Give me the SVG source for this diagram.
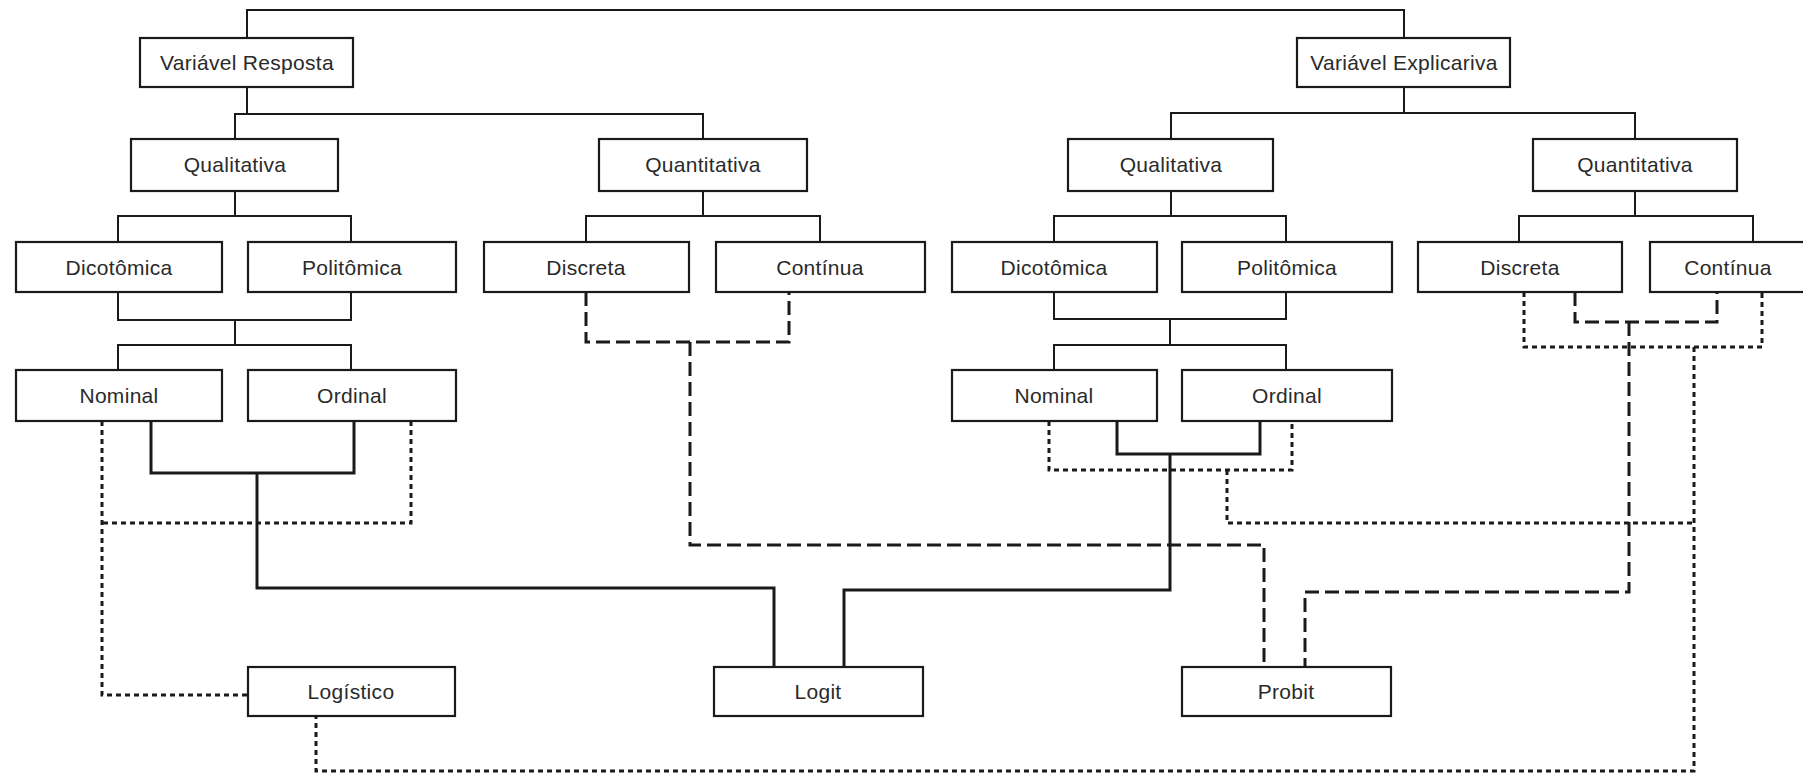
<svg xmlns="http://www.w3.org/2000/svg" width="1803" height="776" viewBox="0 0 1803 776">
<style>
.box{fill:#fff;stroke:#1a1a1a;stroke-width:2.2}
.lbl{font-family:"Liberation Sans",Arial,sans-serif;font-size:21px;letter-spacing:0.3px;fill:#2a2a2a;text-anchor:middle}
.tree{fill:none;stroke:#1a1a1a;stroke-width:2}
.solid{fill:none;stroke:#1a1a1a;stroke-width:3}
.dash{fill:none;stroke:#1a1a1a;stroke-width:3;stroke-dasharray:14 6}
.dot{fill:none;stroke:#1a1a1a;stroke-width:3;stroke-dasharray:5 4}
</style>
<rect width="1803" height="776" fill="#fff"/>
<g id="connectors">
<path class="tree" d="M247,38 V10 H1404 V38"/>
<path class="tree" d="M247,87 V114 M235,139 V114 H703 V139"/>
<path class="tree" d="M1404,87 V113 M1171,139 V113 H1635 V139"/>
<path class="tree" d="M235,191 V216 M118,242 V216 H351 V242"/>
<path class="tree" d="M703,191 V216 M586,242 V216 H820 V242"/>
<path class="tree" d="M1171,191 V216 M1054,242 V216 H1286 V242"/>
<path class="tree" d="M1635,191 V216 M1519,242 V216 H1753 V242"/>
<path class="tree" d="M118,292 V320 H351 V292 M235,320 V345 M118,370 V345 H351 V370"/>
<path class="tree" d="M1054,292 V319 H1286 V292 M1170,319 V345 M1054,370 V345 H1286 V370"/>
<path class="solid" d="M151,421 V473 H354 V421 M257,473 V588 H774 V667"/>
<path class="solid" d="M1117,421 V454 H1260 V421 M1170,454 V590 H844 V667"/>
<path class="dot" d="M102,421 V695 H248"/>
<path class="dot" d="M411,421 V523 H102"/>
<path class="dot" d="M1049,421 V470 H1292 V421 M1227,470 V523 H1694"/>
<path class="dot" d="M1524,292 V347 H1762 V292 M1694,347 V771 H316 V716"/>
<path class="dash" d="M586,292 V342 H789 V292 M690,342 V545 H1264 V667"/>
<path class="dash" d="M1575,292 V322 H1717 V292 M1629,322 V592 H1305 V667"/>
</g>
<g id="n-var-resposta"><rect class="box" x="140" y="38" width="213" height="49"/><text class="lbl" x="247" y="70">Variável Resposta</text></g>
<g id="n-var-explicativa"><rect class="box" x="1297" y="38" width="213" height="49"/><text class="lbl" x="1404" y="70">Variável Explicariva</text></g>
<g id="n-qual-l"><rect class="box" x="131" y="139" width="207" height="52"/><text class="lbl" x="235" y="172">Qualitativa</text></g>
<g id="n-quant-l"><rect class="box" x="599" y="139" width="208" height="52"/><text class="lbl" x="703" y="172">Quantitativa</text></g>
<g id="n-qual-r"><rect class="box" x="1068" y="139" width="205" height="52"/><text class="lbl" x="1171" y="172">Qualitativa</text></g>
<g id="n-quant-r"><rect class="box" x="1533" y="139" width="204" height="52"/><text class="lbl" x="1635" y="172">Quantitativa</text></g>
<g id="n-dic-l"><rect class="box" x="16" y="242" width="206" height="50"/><text class="lbl" x="119" y="275">Dicotômica</text></g>
<g id="n-pol-l"><rect class="box" x="248" y="242" width="208" height="50"/><text class="lbl" x="352" y="275">Politômica</text></g>
<g id="n-disc-l"><rect class="box" x="484" y="242" width="205" height="50"/><text class="lbl" x="586" y="275">Discreta</text></g>
<g id="n-cont-l"><rect class="box" x="716" y="242" width="209" height="50"/><text class="lbl" x="820" y="275">Contínua</text></g>
<g id="n-dic-r"><rect class="box" x="952" y="242" width="205" height="50"/><text class="lbl" x="1054" y="275">Dicotômica</text></g>
<g id="n-pol-r"><rect class="box" x="1182" y="242" width="210" height="50"/><text class="lbl" x="1287" y="275">Politômica</text></g>
<g id="n-disc-r"><rect class="box" x="1418" y="242" width="204" height="50"/><text class="lbl" x="1520" y="275">Discreta</text></g>
<g id="n-cont-r"><rect class="box" x="1650" y="242" width="207" height="50"/><text class="lbl" x="1728" y="275">Contínua</text></g>
<g id="n-nom-l"><rect class="box" x="16" y="370" width="206" height="51"/><text class="lbl" x="119" y="403">Nominal</text></g>
<g id="n-ord-l"><rect class="box" x="248" y="370" width="208" height="51"/><text class="lbl" x="352" y="403">Ordinal</text></g>
<g id="n-nom-r"><rect class="box" x="952" y="370" width="205" height="51"/><text class="lbl" x="1054" y="403">Nominal</text></g>
<g id="n-ord-r"><rect class="box" x="1182" y="370" width="210" height="51"/><text class="lbl" x="1287" y="403">Ordinal</text></g>
<g id="n-logistico"><rect class="box" x="248" y="667" width="207" height="49"/><text class="lbl" x="351" y="699">Logístico</text></g>
<g id="n-logit"><rect class="box" x="714" y="667" width="209" height="49"/><text class="lbl" x="818" y="699">Logit</text></g>
<g id="n-probit"><rect class="box" x="1182" y="667" width="209" height="49"/><text class="lbl" x="1286" y="699">Probit</text></g>
</svg>
